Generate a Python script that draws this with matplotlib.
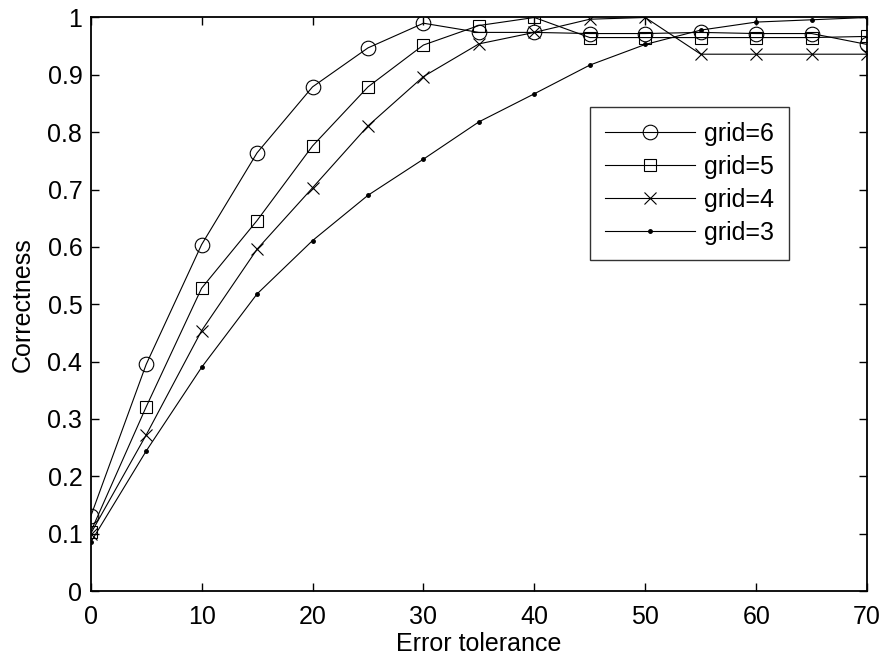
import matplotlib
matplotlib.use('Agg')
import matplotlib.pyplot as plt

plt.rcParams['font.family'] = ['Liberation Sans', 'DejaVu Sans']

tolerance = [0, 5, 10, 15, 20, 25, 30, 35, 40, 45, 50, 55, 60, 65, 70]
grid6 = [0.13, 0.395, 0.604, 0.764, 0.879, 0.947, 0.99, 0.974, 0.974, 0.972, 0.972, 0.974, 0.972, 0.972, 0.953]
grid5 = [0.103, 0.321, 0.528, 0.646, 0.776, 0.879, 0.952, 0.986, 1.0, 0.965, 0.965, 0.965, 0.965, 0.965, 0.967]
grid4 = [0.10, 0.272, 0.454, 0.596, 0.703, 0.811, 0.897, 0.954, 0.974, 0.997, 1.0, 0.936, 0.936, 0.936, 0.936]
grid3 = [0.085, 0.244, 0.39, 0.518, 0.611, 0.69, 0.753, 0.818, 0.867, 0.917, 0.953, 0.978, 0.992, 0.996, 1.0]

fig = plt.figure(figsize=(8.83, 6.6), dpi=100)
ax = fig.add_axes([0.1027, 0.1045, 0.8793, 0.869])

kw = dict(color='black', linewidth=0.8, markerfacecolor='none', markeredgecolor='black')
ax.plot(tolerance, grid6, marker='o', markersize=10.5, markeredgewidth=0.8, label='grid=6', **kw)
ax.plot(tolerance, grid5, marker='s', markersize=9, markeredgewidth=0.8, label='grid=5', **kw)
ax.plot(tolerance, grid4, marker='x', markersize=9, markeredgewidth=0.8, label='grid=4', **kw)
ax.plot(tolerance, grid3, color='black', linewidth=0.8, marker='.', markersize=5, label='grid=3')

ax.set_xlim(0, 70)
ax.set_ylim(0, 1)
ax.set_xticks(range(0, 71, 10))
ax.set_yticks([i / 10 for i in range(11)])
ax.set_yticklabels(['0', '0.1', '0.2', '0.3', '0.4', '0.5', '0.6', '0.7', '0.8', '0.9', '1'])
ax.tick_params(direction='in', top=True, right=True, length=6, width=1, labelsize=18)
ax.tick_params(axis='x', pad=10)
ax.tick_params(axis='y', pad=6)
for s in ax.spines.values():
    s.set_linewidth(1.3)

ax.set_xlabel('Error tolerance', fontsize=18, labelpad=2)
ax.set_ylabel('Correctness', fontsize=18, labelpad=9)

leg = ax.legend(loc='upper left', bbox_to_anchor=(0.643, 0.844), fontsize=18, frameon=True,
                fancybox=False, edgecolor='black', handlelength=3.6, borderpad=0.6,
                labelspacing=0.36, handletextpad=0.35, borderaxespad=0)
leg.get_frame().set_linewidth(1.0)

fig.savefig('out.png', dpi=100)
